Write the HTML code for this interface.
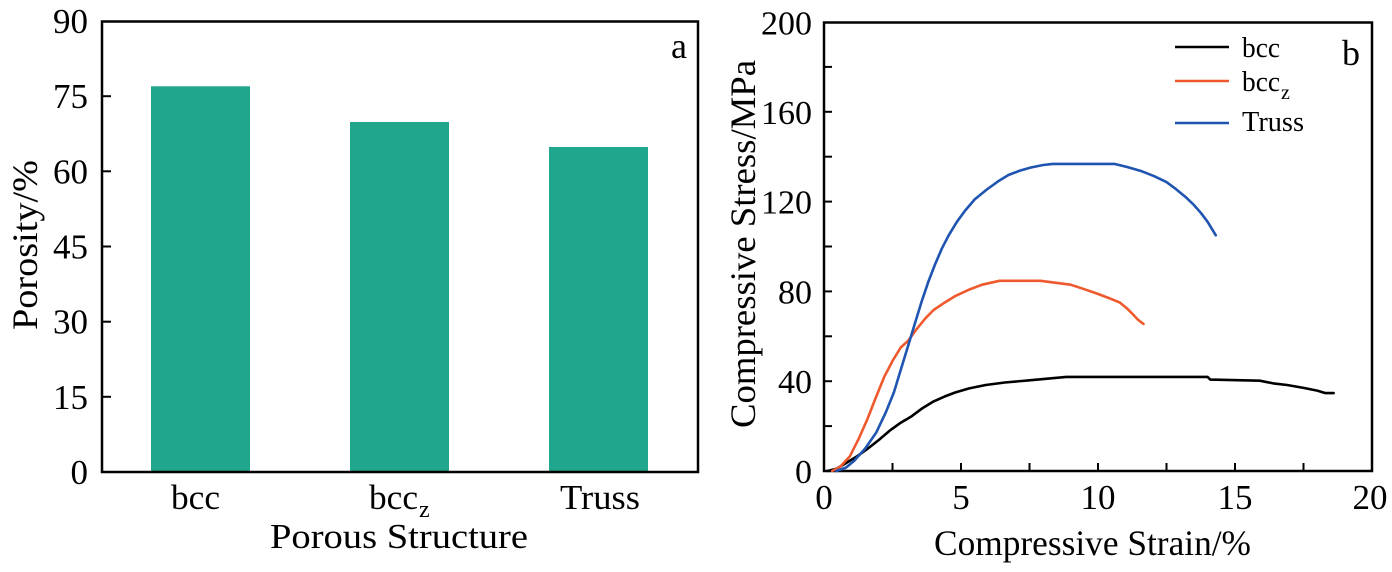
<!DOCTYPE html>
<html>
<head>
<meta charset="utf-8">
<style>
  html,body{margin:0;padding:0;background:#fff;}
  svg{display:block;}
  text{font-family:"Liberation Serif","Times New Roman",serif;fill:#000;}
</style>
</head>
<body>
<svg width="1392" height="572" viewBox="0 0 1392 572" xmlns="http://www.w3.org/2000/svg">
  <rect x="0" y="0" width="1392" height="572" fill="#fff"/>

  <!-- ============ Panel a ============ -->
  <g fill="#20a68c">
    <rect x="151" y="86.3" width="99" height="385.7"/>
    <rect x="350" y="122" width="99" height="350"/>
    <rect x="549" y="147" width="99" height="325"/>
  </g>
  <rect x="102" y="21.5" width="596" height="450.5" fill="none" stroke="#000" stroke-width="2.5"/>
  <g stroke="#000" stroke-width="2">
    <line x1="102" y1="396.8" x2="111" y2="396.8"/>
    <line x1="102" y1="321.7" x2="111" y2="321.7"/>
    <line x1="102" y1="246.5" x2="111" y2="246.5"/>
    <line x1="102" y1="171.3" x2="111" y2="171.3"/>
    <line x1="102" y1="96.2" x2="111" y2="96.2"/>
  </g>
  <g font-size="35" text-anchor="end">
    <text x="88" y="484">0</text>
    <text x="88" y="408.8">15</text>
    <text x="88" y="333.7">30</text>
    <text x="88" y="258.5">45</text>
    <text x="88" y="183.3">60</text>
    <text x="88" y="108.2">75</text>
    <text x="88" y="33">90</text>
  </g>
  <g font-size="35">
    <text x="171" y="509" textLength="49" lengthAdjust="spacingAndGlyphs">bcc</text>
    <text x="369" y="509" textLength="49" lengthAdjust="spacingAndGlyphs">bcc</text>
    <text x="419" y="517" font-size="24">z</text>
    <text x="560" y="509" textLength="80" lengthAdjust="spacingAndGlyphs">Truss</text>
    <text x="270" y="548" textLength="258" lengthAdjust="spacingAndGlyphs">Porous Structure</text>
  </g>
  <text transform="translate(37,245) rotate(-90)" font-size="36" text-anchor="middle" textLength="170" lengthAdjust="spacingAndGlyphs">Porosity/%</text>
  <text x="671" y="58" font-size="36">a</text>

  <!-- ============ Panel b ============ -->
  <rect x="824" y="22.5" width="548" height="448.5" fill="none" stroke="#000" stroke-width="2.5"/>
  <g stroke="#000" stroke-width="2">
    <line x1="824" y1="426.1" x2="832" y2="426.1"/>
    <line x1="824" y1="381.2" x2="832" y2="381.2"/>
    <line x1="824" y1="336.3" x2="832" y2="336.3"/>
    <line x1="824" y1="291.4" x2="832" y2="291.4"/>
    <line x1="824" y1="246.5" x2="832" y2="246.5"/>
    <line x1="824" y1="201.6" x2="832" y2="201.6"/>
    <line x1="824" y1="156.7" x2="832" y2="156.7"/>
    <line x1="824" y1="111.8" x2="832" y2="111.8"/>
    <line x1="824" y1="66.9" x2="832" y2="66.9"/>
    <line x1="892.5" y1="471" x2="892.5" y2="463"/>
    <line x1="961" y1="471" x2="961" y2="463"/>
    <line x1="1029.5" y1="471" x2="1029.5" y2="463"/>
    <line x1="1098" y1="471" x2="1098" y2="463"/>
    <line x1="1166.5" y1="471" x2="1166.5" y2="463"/>
    <line x1="1235" y1="471" x2="1235" y2="463"/>
    <line x1="1303.5" y1="471" x2="1303.5" y2="463"/>
  </g>
  <g font-size="34" text-anchor="end">
    <text x="812" y="483">0</text>
    <text x="812" y="393.2">40</text>
    <text x="812" y="303.4">80</text>
    <text x="812" y="213.6">120</text>
    <text x="812" y="123.8">160</text>
    <text x="812" y="34.5">200</text>
  </g>
  <g font-size="35" text-anchor="middle">
    <text x="824" y="509">0</text>
    <text x="961" y="509">5</text>
    <text x="1098" y="509">10</text>
    <text x="1235" y="509">15</text>
    <text x="1370" y="509">20</text>
  </g>
  <text x="934" y="555" font-size="36" textLength="317" lengthAdjust="spacingAndGlyphs">Compressive Strain/%</text>
  <text transform="translate(755,244) rotate(-90)" font-size="36" text-anchor="middle" textLength="368" lengthAdjust="spacingAndGlyphs">Compressive Stress/MPa</text>
  <text x="1342" y="65" font-size="36">b</text>

  <!-- curves -->
  <g fill="none" stroke-width="2.6" stroke-linejoin="round" stroke-linecap="round">
    <polyline stroke="#000000" points="827.6,471 836.3,468.8 845.1,463.6 856.9,456.4 867.3,449.0 878.8,440.0 889.5,430.8 900.7,422.7 911.7,416.2 922.6,408.1 933.6,401.4 944.6,396.5 955.5,392.4 969.2,388.4 985.7,385.0 1004.8,382.5 1029.5,380.3 1066.2,376.9 1207.6,376.9 1210.3,379.6 1259.7,380.7 1273.4,383.4 1287.1,385.0 1303.5,387.9 1317.2,390.6 1325.4,393.1 1333.6,393.1"/>
    <polyline stroke="#ee5a2e" points="832.2,471 840.4,466.5 849.8,456.4 858.3,439.6 867.3,419.4 876.1,396.9 884.3,376.7 892.5,361.0 900.7,347.5 908.1,340.8 917.2,328.4 925.4,318.3 933.6,310.0 944.6,302.6 955.5,295.9 969.2,289.6 982.1,284.7 999.4,280.8 1040.5,280.8 1056.9,282.9 1070.6,284.7 1084.3,289.2 1097.2,293.6 1109.0,298.1 1119.9,302.6 1126.8,308.2 1132.5,313.9 1137.7,319.5 1143.5,324.0"/>
    <polyline stroke="#1f55b0" points="836.3,471 845.9,467.6 854.1,460.9 865.1,448.6 876.1,432.8 885.7,412.6 893.9,392.4 900.7,370.0 907.6,347.5 914.4,325.1 921.3,302.6 928.1,282.4 935.0,264.5 941.8,248.7 948.7,235.3 956.9,221.8 965.1,210.6 974.7,199.4 986.8,189.5 998.0,181.4 1008.7,174.9 1019.9,170.6 1030.9,167.5 1043.2,165.0 1052.8,163.9 1114.4,163.9 1128.1,167.3 1141.8,171.3 1154.2,176.2 1166.5,182.1 1176.1,189.2 1185.7,197.1 1193.9,205.0 1200.8,212.8 1207.6,221.8 1215.8,235.3"/>
  </g>

  <!-- legend -->
  <g stroke-width="2.6">
    <line x1="1175" y1="47" x2="1229" y2="47" stroke="#000"/>
    <line x1="1175" y1="81" x2="1229" y2="81" stroke="#ee5a2e"/>
    <line x1="1175" y1="123" x2="1229" y2="123" stroke="#1f55b0"/>
  </g>
  <g font-size="28">
    <text x="1242" y="57" textLength="38" lengthAdjust="spacingAndGlyphs">bcc</text>
    <text x="1242" y="91" textLength="38" lengthAdjust="spacingAndGlyphs">bcc</text>
    <text x="1281" y="99" font-size="20">z</text>
    <text x="1242" y="131" textLength="62" lengthAdjust="spacingAndGlyphs">Truss</text>
  </g>
</svg>
</body>
</html>
